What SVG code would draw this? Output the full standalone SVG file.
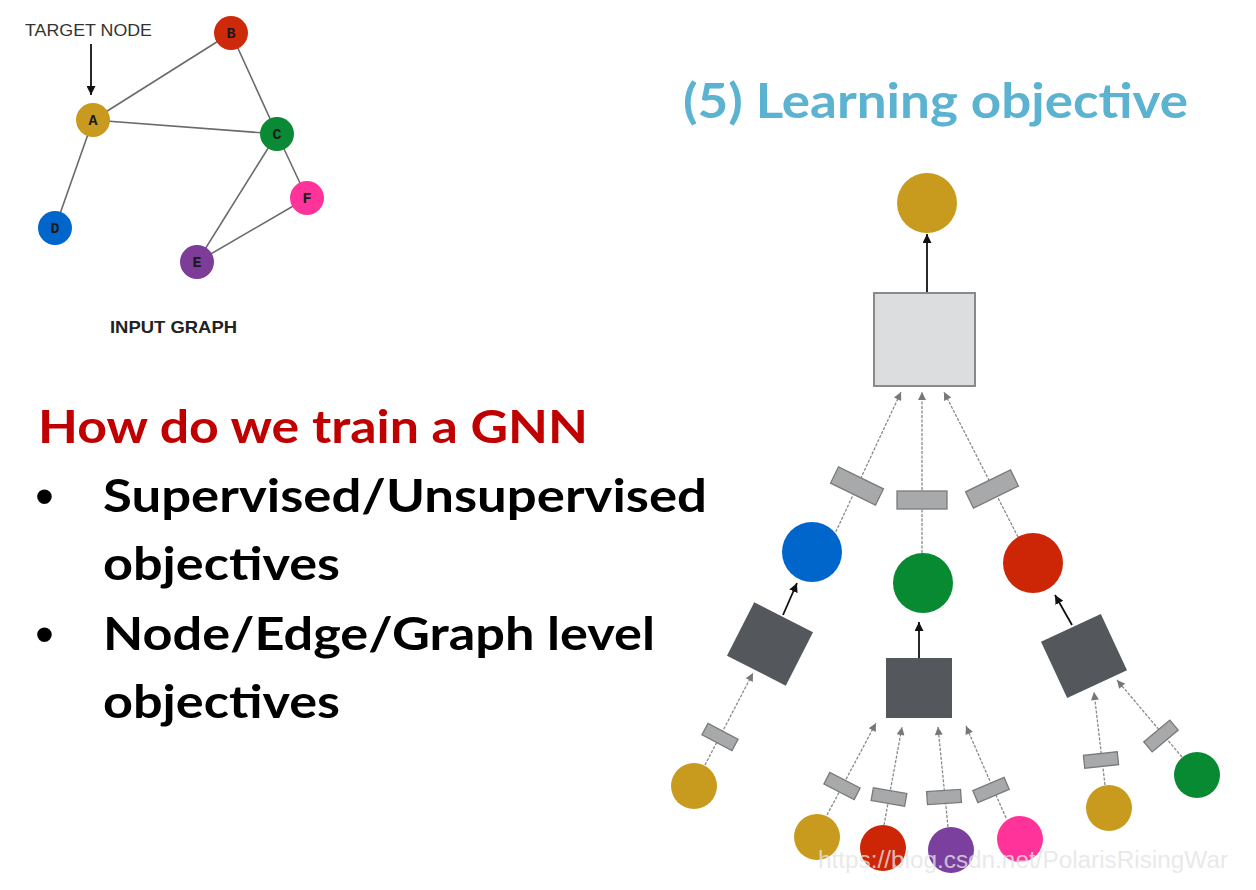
<svg xmlns="http://www.w3.org/2000/svg" width="1256" height="890" viewBox="0 0 1256 890">
<style>
.big{font-family:Lato,"Open Sans",sans-serif;font-weight:bold;}
.lbl{font-family:"Liberation Mono","Courier New",monospace;font-weight:bold;font-size:15px;fill:#1a1a1a;text-anchor:middle;}
.sans{font-family:"Liberation Sans",Arial,sans-serif;}
.bul{font-family:"Liberation Sans",Arial,sans-serif;font-size:54px;fill:#000;}
.edge{stroke:#6a6a6a;stroke-width:1.6;fill:none;}
.dash{stroke:#8a8a8a;stroke-width:1.3;stroke-dasharray:3 1.5;fill:none;}
.solid{stroke:#111;stroke-width:1.8;fill:none;}
.wbig{fill:#a7a9aa;stroke:#7a7a7a;stroke-width:1.3;}
.dark{fill:#54575c;}
</style>
<defs>
<marker id="ab" viewBox="0 0 10 10" refX="10" refY="5" markerWidth="9" markerHeight="9" markerUnits="userSpaceOnUse" orient="auto"><path d="M0,0 L10,5 L0,10 z" fill="#111"/></marker>
<marker id="ag" viewBox="0 0 10 10" refX="10" refY="5" markerWidth="9" markerHeight="8" markerUnits="userSpaceOnUse" orient="auto"><path d="M0,0 L10,5 L0,10 z" fill="#777"/></marker>
</defs>
<rect width="1256" height="890" fill="#ffffff"/>

<!-- Input graph -->
<text class="sans" x="25" y="36" font-size="17" fill="#333" textLength="127" lengthAdjust="spacingAndGlyphs">TARGET NODE</text>
<g id="connectors-input">
<line class="solid" x1="91" y1="44" x2="91" y2="95" marker-end="url(#ab)"/>
<line class="edge" x1="93" y1="120" x2="231" y2="33"/>
<line class="edge" x1="93" y1="120" x2="277" y2="134"/>
<line class="edge" x1="93" y1="120" x2="55" y2="228"/>
<line class="edge" x1="231" y1="33" x2="277" y2="134"/>
<line class="edge" x1="277" y1="134" x2="197" y2="262"/>
<line class="edge" x1="277" y1="134" x2="307" y2="198"/>
<line class="edge" x1="197" y1="262" x2="307" y2="198"/>
</g>
<g id="node-A"><circle cx="93" cy="120" r="17" fill="#c99a20"/><text class="lbl" x="93" y="125">A</text></g>
<g id="node-B"><circle cx="231" cy="33" r="17" fill="#cc2a0a"/><text class="lbl" x="231" y="38">B</text></g>
<g id="node-C"><circle cx="277" cy="134" r="17" fill="#0a8a36"/><text class="lbl" x="277" y="139">C</text></g>
<g id="node-D"><circle cx="55" cy="228" r="17" fill="#0066cc"/><text class="lbl" x="55" y="233">D</text></g>
<g id="node-E"><circle cx="197" cy="262" r="17" fill="#7d3c98"/><text class="lbl" x="197" y="267">E</text></g>
<g id="node-F"><circle cx="307" cy="198" r="17" fill="#ff3399"/><text class="lbl" x="307" y="203">F</text></g>
<text class="sans" x="110" y="333" font-size="17" font-weight="bold" fill="#222" textLength="127" lengthAdjust="spacingAndGlyphs">INPUT GRAPH</text>

<!-- Texts -->
<text class="big" x="683" y="118" font-size="48" fill="#5bb3d1" textLength="505" lengthAdjust="spacingAndGlyphs">(5) Learning objective</text>
<text class="big" x="38" y="443" font-size="46" fill="#c00000" textLength="550" lengthAdjust="spacingAndGlyphs">How do we train a GNN</text>
<text class="bul" x="35" y="515">•</text>
<text class="big" x="103" y="512" font-size="46" fill="#000" textLength="604" lengthAdjust="spacingAndGlyphs">Supervised/Unsupervised</text>
<text class="big" x="103" y="580" font-size="46" fill="#000" textLength="237" lengthAdjust="spacingAndGlyphs">objectives</text>
<text class="bul" x="35" y="653">•</text>
<text class="big" x="103" y="650" font-size="46" fill="#000" textLength="552" lengthAdjust="spacingAndGlyphs">Node/Edge/Graph level</text>
<text class="big" x="103" y="718" font-size="46" fill="#000" textLength="237" lengthAdjust="spacingAndGlyphs">objectives</text>

<!-- Tree connectors -->
<g id="connectors">
<line class="solid" x1="927" y1="293" x2="927" y2="234" marker-end="url(#ab)"/>
<line class="dash" x1="832" y1="540" x2="901" y2="392" marker-end="url(#ag)"/>
<line class="dash" x1="922" y1="553" x2="922" y2="392" marker-end="url(#ag)"/>
<line class="dash" x1="1018" y1="537" x2="944" y2="392" marker-end="url(#ag)"/>
<line class="solid" x1="783" y1="615" x2="797" y2="583" marker-end="url(#ab)"/>
<line class="solid" x1="919" y1="658" x2="919" y2="622" marker-end="url(#ab)"/>
<line class="solid" x1="1072" y1="625" x2="1055" y2="595" marker-end="url(#ab)"/>
<line class="dash" x1="705" y1="765" x2="753" y2="673" marker-end="url(#ag)"/>
<line class="dash" x1="827" y1="815" x2="876" y2="723" marker-end="url(#ag)"/>
<line class="dash" x1="884" y1="825" x2="902" y2="727" marker-end="url(#ag)"/>
<line class="dash" x1="948" y1="827" x2="938" y2="727" marker-end="url(#ag)"/>
<line class="dash" x1="1006" y1="818" x2="966" y2="726" marker-end="url(#ag)"/>
<line class="dash" x1="1105" y1="785" x2="1094" y2="692" marker-end="url(#ag)"/>
<line class="dash" x1="1182" y1="757" x2="1117" y2="680" marker-end="url(#ag)"/>
</g>

<!-- Tree nodes -->
<g id="tree-root"><circle cx="927" cy="203" r="30" fill="#c89b1e"/></g>
<g id="tree-agg-top"><rect x="874" y="293" width="101" height="93" fill="#dcdddf" stroke="#8a8a8a" stroke-width="2"/></g>
<g id="tree-w1"><rect class="wbig" x="-25" y="-9" width="50" height="18" transform="translate(857,486) rotate(26)"/></g>
<g id="tree-w2"><rect class="wbig" x="-25" y="-9" width="50" height="18" transform="translate(922,500)"/></g>
<g id="tree-w3"><rect class="wbig" x="-25" y="-9" width="50" height="18" transform="translate(992,489) rotate(-26)"/></g>
<g id="tree-blue"><circle cx="812" cy="552" r="30" fill="#0066cc"/></g>
<g id="tree-green"><circle cx="923" cy="583" r="30" fill="#088a32"/></g>
<g id="tree-red"><circle cx="1033" cy="563" r="30" fill="#cc2606"/></g>
<g id="tree-agg-left"><rect class="dark" x="-33" y="-30" width="66" height="60" transform="translate(770,644) rotate(27)"/></g>
<g id="tree-agg-mid"><rect class="dark" x="886" y="658" width="66" height="60"/></g>
<g id="tree-agg-right"><rect class="dark" x="-33" y="-31" width="66" height="62" transform="translate(1084,656) rotate(-25)"/></g>
<g id="tree-w4"><rect class="wbig" x="-17" y="-6.5" width="34" height="13" transform="translate(720,737) rotate(28)"/></g>
<g id="tree-w5"><rect class="wbig" x="-17" y="-6.5" width="34" height="13" transform="translate(842,786) rotate(27)"/></g>
<g id="tree-w6"><rect class="wbig" x="-17" y="-6.5" width="34" height="13" transform="translate(889,797) rotate(10)"/></g>
<g id="tree-w7"><rect class="wbig" x="-17" y="-6.5" width="34" height="13" transform="translate(944,797) rotate(-4)"/></g>
<g id="tree-w8"><rect class="wbig" x="-17" y="-6.5" width="34" height="13" transform="translate(991,790) rotate(-23)"/></g>
<g id="tree-w9"><rect class="wbig" x="-17" y="-6.5" width="34" height="13" transform="translate(1101,760) rotate(-6)"/></g>
<g id="tree-w10"><rect class="wbig" x="-17" y="-6.5" width="34" height="13" transform="translate(1161,736) rotate(-40)"/></g>
<g id="tree-leaf1"><circle cx="694" cy="786" r="23" fill="#c89b1e"/></g>
<g id="tree-leaf2"><circle cx="817" cy="837" r="23" fill="#c89b1e"/></g>
<g id="tree-leaf3"><circle cx="883" cy="848" r="23" fill="#cc2606"/></g>
<g id="tree-leaf4"><circle cx="951" cy="850" r="23" fill="#7b3f9e"/></g>
<g id="tree-leaf5"><circle cx="1020" cy="839" r="23" fill="#ff3399"/></g>
<g id="tree-leaf6"><circle cx="1109" cy="808" r="23" fill="#c89b1e"/></g>
<g id="tree-leaf7"><circle cx="1197" cy="775" r="23" fill="#088a32"/></g>

<text class="sans" x="818" y="868" font-size="23" fill="#e4e4e4" fill-opacity="0.8" textLength="410" lengthAdjust="spacingAndGlyphs">https://blog.csdn.net/PolarisRisingWar</text>
</svg>
